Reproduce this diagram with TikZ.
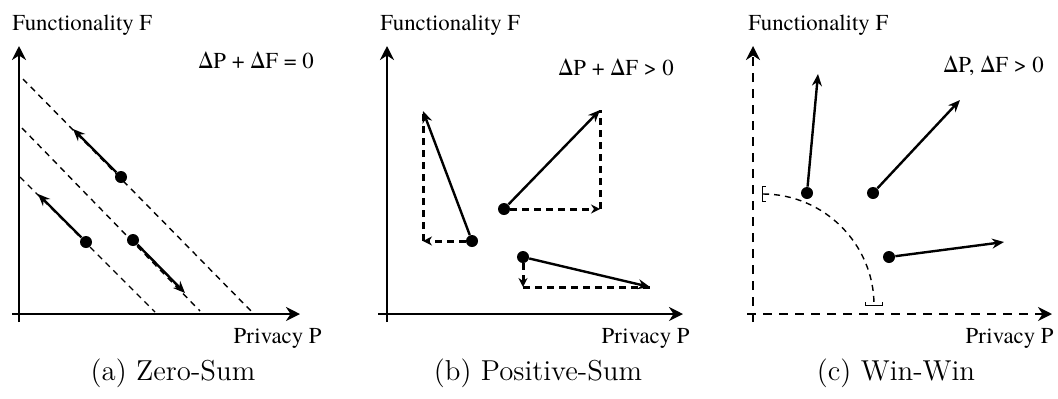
\documentclass[tikz,border=0pt]{standalone}
\usepackage{fontspec}
\usetikzlibrary{arrows.meta}
\newfontfamily\labelfont{texgyretermes-regular.otf}
\newcommand{\lblfont}{\fontsize{11.4}{13}\labelfont\selectfont}

\begin{document}
\begin{tikzpicture}[
  x=0.5pt, y=-0.5pt,
  axis/.style={line width=1.3pt, -{Stealth[length=7pt, width=7pt]}},
  axisdash/.style={axis, dash pattern=on 4.5pt off 3.5pt},
  move/.style={line width=1.2pt, -{Stealth[length=6pt, width=5pt]}},
  part/.style={line width=1.5pt, dash pattern=on 3.5pt off 2.5pt},
  partarrow/.style={part, -{Stealth[length=4.5pt, width=4.5pt]}},
  iso/.style={line width=0.7pt, dash pattern=on 3pt off 2.5pt},
  dot/.style={circle, fill, inner sep=0pt, minimum size=6pt},
  lbl/.style={font=\lblfont, inner sep=0pt},
  subcap/.style={font=\fontsize{14.4}{17}\selectfont, inner sep=0pt}
]
\useasboundingbox (0,0) rectangle (1058,398);

% (a) zero-sum
\draw[axis] (12,314) -- (300,314);
\draw[axis] (19,322) -- (19,46);
\draw[iso] (23,79) -- (253,313);
\draw[iso] (22,128) -- (200,311);
\draw[iso] (20,177) -- (155,312);

\node[dot] (a1) at (121,177) {};
\node[dot] (a2) at (86,242) {};
\node[dot] (a3) at (133,240) {};
\coordinate (a1e) at (73,129);
\coordinate (a2e) at (38,194);
\coordinate (a3e) at (185,293);
\draw[move] (a1) -- (a1e);
\draw[move] (a2) -- (a2e);
\draw[move] (a3) -- (a3e);

\node[lbl, anchor=base west] (aF) at (12,30) {Functionality F};
\node[lbl, anchor=base west] (aeq) at (198,68) {ΔP + ΔF = 0};
\node[lbl, anchor=base east] (aP) at (322,343) {Privacy P};
\node[subcap, anchor=base] (acap) at (173,380) {(a) Zero-Sum};

% (b) positive-sum
\draw[axis] (378,314) -- (683,314);
\draw[axis] (387,322) -- (387,46);

\node[dot] (b1) at (472,241) {};
\node[dot] (b2) at (504,209) {};
\node[dot] (b3) at (523,257) {};
\coordinate (b1c) at (423,241);
\coordinate (b2c) at (600,209);
\coordinate (b3c) at (523,287);
\coordinate (b1e) at (423,111);
\coordinate (b2e) at (600,110);
\coordinate (b3e) at (650,287);
\draw[partarrow] (b1) -- (b1c);
\draw[part] (b1c) -- (b1e);
\draw[partarrow] (b2) -- (b2c);
\draw[part] (b2c) -- (b2e);
\draw[partarrow] (b3) -- (b3c);
\draw[part] (b3c) -- (b3e);
\draw[move] (b1) -- (b1e);
\draw[move] (b2) -- (b2e);
\draw[move] (b3) -- (b3e);

\node[lbl, anchor=base west] (bF) at (380,30) {Functionality F};
\node[lbl, anchor=base west] (beq) at (558,75) {ΔP + ΔF > 0};
\node[lbl, anchor=base east] (bP) at (690,343) {Privacy P};
\node[subcap, anchor=base] (bcap) at (538,380) {(b) Positive-Sum};

% (c) win-win
\draw[axisdash] (747,314) -- (1052,314);
\draw[axisdash] (753,322) -- (753,46);
\draw[iso, line width=0.7pt, {Bracket[width=8pt, length=1.5pt]}-{Bracket[width=9pt, length=1.5pt]}]
  (762,194) arc[start angle=-90, end angle=0, radius=112];

\node[dot] (c1) at (807,193) {};
\node[dot] (c2) at (873,193) {};
\node[dot] (c3) at (889,257) {};
\coordinate (c1e) at (818,74);
\coordinate (c2e) at (960,100);
\coordinate (c3e) at (1004,242);
\draw[move] (c1) -- (c1e);
\draw[move] (c2) -- (c2e);
\draw[move] (c3) -- (c3e);

\node[lbl, anchor=base west] (cF) at (748,30) {Functionality F};
\node[lbl, anchor=base west] (ceq) at (943,72) {ΔP, ΔF > 0};
\node[lbl, anchor=base east] (cP) at (1054,343) {Privacy P};
\node[subcap, anchor=base] (ccap) at (896,380) {(c) Win-Win};

\end{tikzpicture}
\end{document}
